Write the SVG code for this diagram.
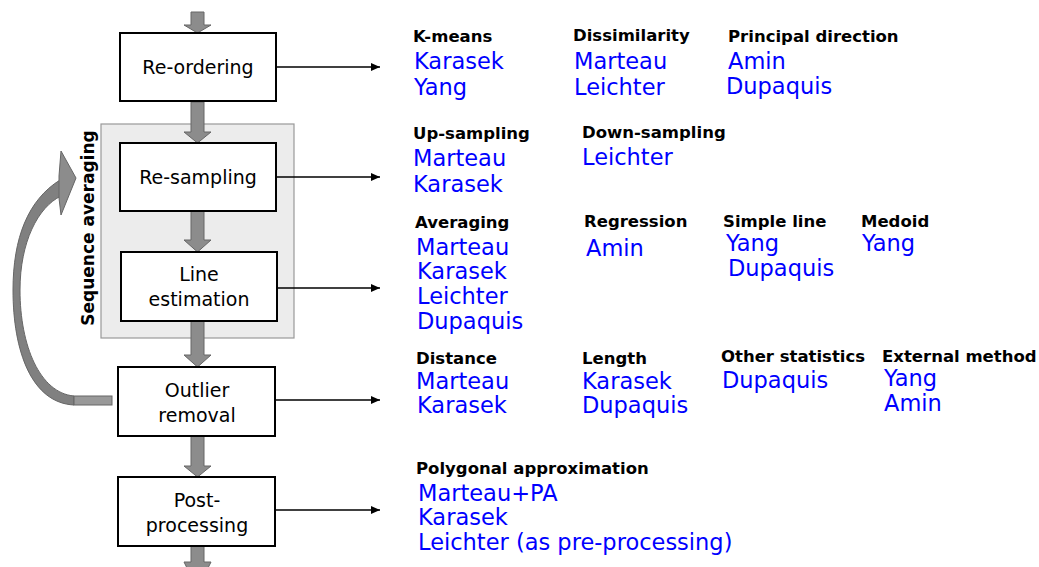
<svg xmlns="http://www.w3.org/2000/svg" width="1039" height="567" viewBox="0 0 1039 567">
<defs>
<marker id="ah" markerWidth="10" markerHeight="10" refX="9" refY="5" orient="auto" markerUnits="userSpaceOnUse">
<path d="M0,1 L9,5 L0,9 Z" fill="#000"/>
</marker>
<style>
.box{fill:#fff;stroke:#000;stroke-width:2}
.nt{font-family:"DejaVu Sans",sans-serif;font-size:19px;fill:#000;text-anchor:middle}
.hd{font-family:"DejaVu Sans",sans-serif;font-size:16.5px;font-weight:bold;fill:#000}
.bl{font-family:"DejaVu Sans",sans-serif;font-size:22.5px;fill:#0000ff}
.conn{stroke:#000;stroke-width:1.5;fill:none;marker-end:url(#ah)}
.garr{fill:#8c8c8c;stroke:#666;stroke-width:1}
</style>
</defs>
<rect x="0" y="0" width="1039" height="567" fill="#fff"/>
<g id="panel">
<rect x="101" y="124" width="193" height="214" fill="#ececec" stroke="#999" stroke-width="1.2"/>
<text class="hd" transform="translate(94,228) rotate(-90)" text-anchor="middle" style="font-size:17px">Sequence averaging</text>
</g>
<g id="flow-arrows">
<path class="garr" d="M191,12 H204 V25 H211 L197.5,33 L184,25 H191 Z"/>
<path class="garr" d="M191,102 H204 V132 H211 L197.5,143 L184,132 H191 Z"/>
<path class="garr" d="M191,211 H204 V240 H211 L197.5,252 L184,240 H191 Z"/>
<path class="garr" d="M191,321 H204 V355 H211 L197.5,367 L184,355 H191 Z"/>
<path class="garr" d="M191,436 H204 V466 H211 L197.5,477 L184,466 H191 Z"/>
<path class="garr" d="M191,546 H204 V562 H211 L208,568 L187,568 L184,562 H191 Z"/>
</g>
<g id="loop-arrow">
<path d="M74,405 C32,403 13,352 13,290 C13,238 28,200 60,180 L61,196 C38,207 20,242 20,290 C20,346 40,393 74,396 Z" fill="#808080" stroke="#666" stroke-width="1"/>
<path d="M61,151 L76,178 L61,215 L59,198 L59,176 Z" fill="#8c8c8c" stroke="#666" stroke-width="1"/>
<rect x="74" y="396" width="38" height="9" fill="#999" stroke="#666" stroke-width="1"/>
</g>
<g id="reordering">
<rect class="box" x="120" y="33" width="156" height="68"/>
<text class="nt" x="198" y="74">Re-ordering</text>
</g>
<g id="resampling">
<rect class="box" x="120" y="143" width="156" height="68"/>
<text class="nt" x="198" y="184">Re-sampling</text>
</g>
<g id="lineestimation">
<rect class="box" x="121" y="252" width="156" height="69"/>
<text class="nt" x="199" y="281">Line</text>
<text class="nt" x="199" y="306">estimation</text>
</g>
<g id="outlier">
<rect class="box" x="118" y="367" width="157" height="69"/>
<text class="nt" x="197" y="397">Outlier</text>
<text class="nt" x="197" y="422">removal</text>
</g>
<g id="postprocessing">
<rect class="box" x="118" y="477" width="157" height="69"/>
<text class="nt" x="197" y="507">Post-</text>
<text class="nt" x="197" y="532">processing</text>
</g>
<g id="connectors">
<line class="conn" x1="276" y1="67" x2="380" y2="67"/>
<line class="conn" x1="276" y1="177" x2="380" y2="177"/>
<line class="conn" x1="277" y1="288" x2="380" y2="288"/>
<line class="conn" x1="275" y1="400" x2="380" y2="400"/>
<line class="conn" x1="275" y1="510" x2="380" y2="510"/>
</g>
<g id="row1">
<text class="hd" x="413" y="42">K-means</text>
<text class="bl" x="414" y="69">Karasek</text>
<text class="bl" x="414" y="95">Yang</text>
<text class="hd" x="573" y="41">Dissimilarity</text>
<text class="bl" x="574" y="69">Marteau</text>
<text class="bl" x="574" y="95">Leichter</text>
<text class="hd" x="728" y="42">Principal direction</text>
<text class="bl" x="728" y="69">Amin</text>
<text class="bl" x="726" y="94">Dupaquis</text>
</g>
<g id="row2">
<text class="hd" x="413" y="139">Up-sampling</text>
<text class="bl" x="413" y="166">Marteau</text>
<text class="bl" x="413" y="192">Karasek</text>
<text class="hd" x="582" y="138">Down-sampling</text>
<text class="bl" x="582" y="165">Leichter</text>
</g>
<g id="row3">
<text class="hd" x="415" y="228">Averaging</text>
<text class="bl" x="416" y="255">Marteau</text>
<text class="bl" x="417" y="279">Karasek</text>
<text class="bl" x="417" y="304">Leichter</text>
<text class="bl" x="417" y="329">Dupaquis</text>
<text class="hd" x="584" y="227">Regression</text>
<text class="bl" x="586" y="256">Amin</text>
<text class="hd" x="723" y="227">Simple line</text>
<text class="bl" x="726" y="251">Yang</text>
<text class="bl" x="728" y="276">Dupaquis</text>
<text class="hd" x="861" y="227">Medoid</text>
<text class="bl" x="862" y="251">Yang</text>
</g>
<g id="row4">
<text class="hd" x="416" y="364">Distance</text>
<text class="bl" x="416" y="389">Marteau</text>
<text class="bl" x="417" y="413">Karasek</text>
<text class="hd" x="582" y="364">Length</text>
<text class="bl" x="582" y="389">Karasek</text>
<text class="bl" x="582" y="413">Dupaquis</text>
<text class="hd" x="721" y="362">Other statistics</text>
<text class="bl" x="722" y="388">Dupaquis</text>
<text class="hd" x="882" y="362">External method</text>
<text class="bl" x="884" y="386">Yang</text>
<text class="bl" x="884" y="411">Amin</text>
</g>
<g id="row5">
<text class="hd" x="416" y="474">Polygonal approximation</text>
<text class="bl" x="418" y="501">Marteau+PA</text>
<text class="bl" x="418" y="525">Karasek</text>
<text class="bl" x="418" y="550">Leichter (as pre-processing)</text>
</g>
</svg>
